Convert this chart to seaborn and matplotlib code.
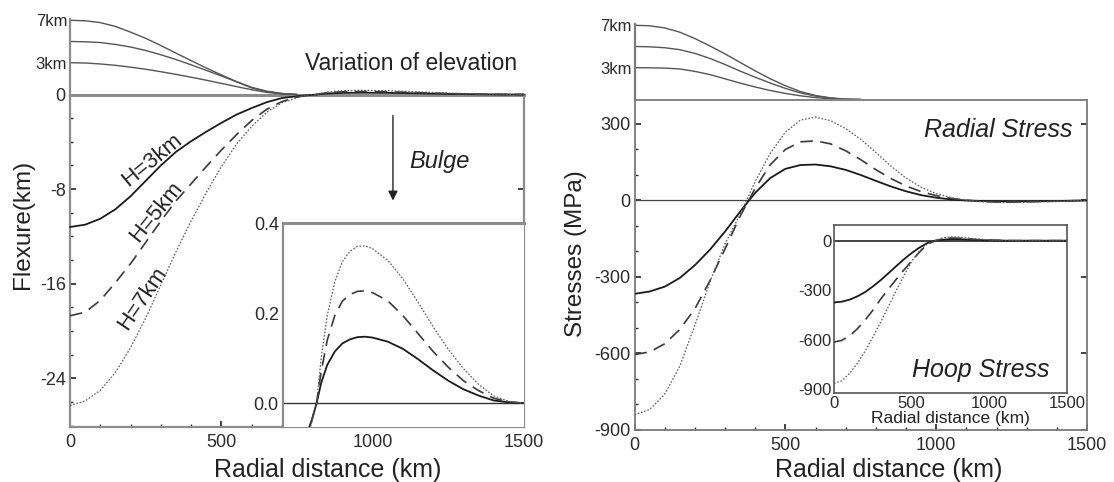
import matplotlib
matplotlib.use('Agg')
import matplotlib.pyplot as plt
import seaborn as sns
from matplotlib.ticker import MultipleLocator

sns.set_theme(style='ticks')
plt.rcParams['font.family'] = ['Liberation Sans', 'DejaVu Sans']
plt.rcParams['axes.unicode_minus'] = False

# %% data
loads = ['H=3km', 'H=5km', 'H=7km']

# surface load (elevation) profiles, km
r_elev = [0, 50, 100, 150, 200, 250, 300, 350, 400, 450, 500, 550, 600, 650, 700, 750]
elev_left_h3 = [3.0, 2.97, 2.88, 2.75, 2.58, 2.38, 2.15, 1.9, 1.63, 1.35, 1.05, 0.75, 0.45, 0.2, 0.05, 0.0]
elev_left_h5 = [5.0, 4.97, 4.9, 4.72, 4.48, 4.15, 3.75, 3.3, 2.8, 2.28, 1.75, 1.2, 0.62, 0.27, 0.08, 0.0]
elev_left_h7 = [7.0, 6.95, 6.78, 6.42, 5.88, 5.3, 4.62, 3.9, 3.2, 2.5, 1.85, 1.22, 0.68, 0.32, 0.1, 0.0]
elev_right_h3 = [3.0, 2.99, 2.96, 2.88, 2.65, 2.35, 1.95, 1.55, 1.18, 0.85, 0.57, 0.35, 0.18, 0.07, 0.01, 0.0]
elev_right_h5 = [5.0, 4.97, 4.88, 4.7, 4.35, 3.87, 3.3, 2.68, 2.1, 1.55, 1.05, 0.62, 0.32, 0.13, 0.03, 0.0]
elev_right_h7 = [7.0, 6.95, 6.75, 6.35, 5.75, 5.05, 4.3, 3.5, 2.7, 1.95, 1.3, 0.75, 0.38, 0.15, 0.03, 0.0]

# flexure, km
r_flex = [0, 50, 100, 150, 200, 250, 300, 350, 400, 450, 500, 550, 600, 650, 700,
          750, 775, 800, 815, 830, 850, 875, 900, 925, 950, 975,
          1000, 1050, 1100, 1150, 1200, 1250, 1300, 1350, 1400, 1450, 1500]
flex_h3 = [-11.2, -11.0, -10.5, -9.7, -8.6, -7.3, -6.0, -4.85, -3.95, -3.15, -2.4, -1.7, -1.15, -0.65, -0.3,
           -0.15, -0.085, -0.035, 0.0, 0.045, 0.085, 0.115, 0.133, 0.142, 0.147, 0.148,
           0.146, 0.137, 0.121, 0.098, 0.073, 0.05, 0.031, 0.017, 0.006, 0.002, 0.0]
flex_h5 = [-18.7, -18.4, -17.4, -15.9, -14.3, -12.5, -10.7, -9.0, -7.55, -6.1, -4.7, -3.4, -2.2, -1.25, -0.6,
           -0.22, -0.09, -0.037, 0.0, 0.07, 0.14, 0.195, 0.227, 0.242, 0.249, 0.25,
           0.246, 0.228, 0.195, 0.155, 0.115, 0.08, 0.05, 0.028, 0.011, 0.003, 0.0]
flex_h7 = [-26.3, -25.9, -25.0, -23.5, -21.4, -18.9, -16.1, -13.3, -10.7, -8.3, -6.1, -4.2, -2.7, -1.5, -0.7,
           -0.28, -0.1, -0.04, 0.0, 0.1, 0.195, 0.27, 0.315, 0.338, 0.349, 0.35,
           0.344, 0.318, 0.277, 0.225, 0.17, 0.12, 0.077, 0.042, 0.016, 0.004, 0.0]

# stresses, MPa
r_stress = [0, 50, 100, 150, 200, 250, 300, 350, 400, 450, 500, 550, 600, 650, 700, 750,
            800, 850, 900, 950, 1000, 1050, 1100, 1150, 1200, 1250, 1300, 1350, 1400, 1450, 1500]
radial_h3 = [-366, -357, -338, -304, -254, -193, -122, -44, 30, 88, 124, 139, 141, 134, 120, 100,
             77, 55, 36, 21, 11, 4, 0, -2, -3, -4, -3.5, -3, -2, -1, 0]
radial_h5 = [-604, -594, -562, -506, -425, -315, -190, -62, 48, 140, 200, 230, 234, 222, 195, 160,
             121, 86, 57, 35, 19, 8, 1, -4, -6, -6, -5, -4, -3, -1, 0]
radial_h7 = [-840, -820, -760, -650, -490, -320, -170, -55, 75, 185, 268, 315, 327, 313, 282, 240,
             188, 135, 88, 52, 27, 11, 1, -5, -8, -8, -7, -5, -3, -1, 0]
hoop_h3 = [-375, -370, -358, -338, -312, -278, -240, -198, -155, -113, -75, -42, -15, 0, 6, 9,
           9, 7, 5, 3, 2, 1, 0, 0, 0, 0, 0, 0, 0, 0, 0]
hoop_h5 = [-615, -605, -578, -535, -482, -422, -355, -294, -235, -178, -123, -70, -22, -1, 11, 16,
           15, 12, 8, 5, 3, 2, 1, 0, 0, 0, 0, 0, 0, 0, 0]
hoop_h7 = [-865, -850, -805, -745, -670, -585, -495, -400, -305, -212, -125, -62, -20, 0, 17, 23,
           22, 17, 12, 8, 5, 3, 1, 0, 0, 0, 0, 0, 0, 0, 0]

# %% styles
styles = {
    'H=3km': dict(color='#1a1a1a', linewidth=1.3, linestyle='-'),
    'H=5km': dict(color='#3a3a3a', linewidth=1.2, linestyle=(0, (7.5, 4.5))),
    'H=7km': dict(color='#5a5a5a', linewidth=0.9, linestyle=(0, (1.3, 1.4))),
}
elev_style = dict(color='#555555', linewidth=1.0)
grey_l = '#8c8c8c'
grey_r = '#7a7a7a'
tick_c = '#2b2b2b'

W, H = 1114, 482
fig = plt.figure(figsize=(W / 100, H / 100), dpi=100)


def box(x0, y0, x1, y1):
    return [x0 / W, 1 - y1 / H, (x1 - x0) / W, (y1 - y0) / H]


def style_ticks(ax, size):
    ax.tick_params(which='both', direction='in', colors=tick_c, labelsize=size, pad=3)
    ax.tick_params(which='major', length=4)
    ax.tick_params(which='minor', length=2.5)


def elevation_axes(rect, curves, color):
    ax = fig.add_axes(rect)
    ax.set_facecolor('none')
    for vals in curves:
        sns.lineplot(x=r_elev, y=vals, ax=ax, **elev_style)
    ax.set_xlim(0, 1500)
    ax.set_ylim(0, 7.1)
    for s in ['top', 'right', 'bottom']:
        ax.spines[s].set_visible(False)
    ax.spines['left'].set_color(color)
    ax.spines['left'].set_linewidth(1.6)
    ax.set_xticks([])
    ax.set_yticks([3, 7])
    ax.set_yticklabels(['3km', '7km'])
    style_ticks(ax, 12)
    ax.tick_params(axis='y', length=0, pad=2)
    ax.set_xlabel('')
    ax.set_ylabel('')
    return ax


# %% left panel: flexure
ax_l = fig.add_axes(box(70, 94.5, 524, 427))
for key, vals in zip(loads, [flex_h3, flex_h5, flex_h7]):
    sns.lineplot(x=r_flex, y=vals, ax=ax_l, clip_on=False, zorder=3, **styles[key])
ax_l.set_xlim(0, 1500)
ax_l.set_ylim(-28.1, 0)
ax_l.set_yticks([0, -8, -16, -24])
ax_l.set_xticks([0, 500, 1000, 1500])
ax_l.yaxis.set_minor_locator(MultipleLocator(2))
ax_l.xaxis.set_minor_locator(MultipleLocator(100))
for s in ax_l.spines.values():
    s.set_color(grey_l)
    s.set_linewidth(1.6)
ax_l.spines['top'].set_linewidth(2.2)
style_ticks(ax_l, 13)
ax_l.tick_params(axis='y', right=True)
ax_l.tick_params(axis='x', pad=5)
ax_l.set_xlabel('Radial distance (km)', fontsize=18, color='#222222')
ax_l.xaxis.set_label_coords(0.568, -0.093)
ax_l.set_ylabel('Flexure(km)', fontsize=17.5, color='#222222')
ax_l.yaxis.set_label_coords(-0.079, 0.61)

for key, xy, rot in [('H=3km', (271, -5.55), 39.5), ('H=5km', (285, -9.95), 51),
                     ('H=7km', (239, -17.25), 56)]:
    ax_l.text(*xy, key, rotation=rot, rotation_mode='anchor', ha='center', va='center',
              fontsize=16, color='#222222')

ax_l.annotate('', xy=(1067, -9.2), xytext=(1067, -1.55),
              arrowprops=dict(arrowstyle='-|>', color='#222222', lw=1.0, mutation_scale=14))
ax_l.text(1120, -5.7, 'Bulge', style='italic', fontsize=17, ha='left', va='center', color='#222222')

ax_le = elevation_axes(box(70, 19.2, 524, 94.5), [elev_left_h3, elev_left_h5, elev_left_h7], grey_l)
ax_le.text(1127, 2.95, 'Variation of elevation', fontsize=16.5, ha='center', va='center', color='#222222')

# inset: bulge
ax_li = fig.add_axes(box(283, 223.5, 524, 427))
for key, vals in zip(loads, [flex_h3, flex_h5, flex_h7]):
    sns.lineplot(x=r_flex, y=vals, ax=ax_li, **styles[key])
ax_li.axhline(0, color='#333333', lw=1.0, zorder=1)
ax_li.set_xlim(704, 1500)
ax_li.set_ylim(-0.053, 0.4)
ax_li.set_xticks([])
ax_li.set_yticks([0.0, 0.2, 0.4])
ax_li.set_yticklabels(['0.0', '0.2', '0.4'])
for s in ['right', 'bottom']:
    ax_li.spines[s].set_visible(False)
ax_li.spines['left'].set_color(grey_l)
ax_li.spines['left'].set_linewidth(1.6)
ax_li.spines['top'].set_color(grey_l)
ax_li.spines['top'].set_linewidth(2.2)
style_ticks(ax_li, 13)
ax_li.tick_params(axis='y', length=0, pad=3)
ax_li.set_xlabel('')
ax_li.set_ylabel('')

# %% right panel: radial stress
ax_r = fig.add_axes(box(634.5, 99.5, 1087, 430))
for key, vals in zip(loads, [radial_h3, radial_h5, radial_h7]):
    sns.lineplot(x=r_stress, y=vals, ax=ax_r, zorder=3, **styles[key])
ax_r.axhline(0, color='#444444', lw=0.9, zorder=1)
ax_r.set_xlim(0, 1500)
ax_r.set_ylim(-900, 396)
ax_r.set_yticks([300, 0, -300, -600, -900])
ax_r.set_xticks([0, 500, 1000, 1500])
ax_r.yaxis.set_minor_locator(MultipleLocator(100))
ax_r.xaxis.set_minor_locator(MultipleLocator(100))
for s in ax_r.spines.values():
    s.set_color(grey_r)
    s.set_linewidth(1.3)
style_ticks(ax_r, 13)
ax_r.tick_params(axis='y', right=True)
ax_r.tick_params(axis='x', pad=5)
ax_r.set_xlabel('Radial distance (km)', fontsize=18, color='#222222')
ax_r.xaxis.set_label_coords(0.562, -0.085)
ax_r.set_ylabel('Stresses (MPa)', fontsize=17.5, color='#222222')
ax_r.yaxis.set_label_coords(-0.105, 0.535)
ax_r.text(1205, 276, 'Radial Stress', style='italic', fontsize=18, ha='center', va='center',
          color='#222222')

ax_re = elevation_axes(box(634.5, 24.2, 1087, 99.5), [elev_right_h3, elev_right_h5, elev_right_h7], grey_r)

# inset: hoop stress
ax_ri = fig.add_axes(box(834, 224.5, 1067, 393))
for key, vals in zip(loads, [hoop_h3, hoop_h5, hoop_h7]):
    sns.lineplot(x=r_stress, y=vals, ax=ax_ri, zorder=3, **styles[key])
ax_ri.axhline(0, color='#222222', lw=1.2, zorder=2)
ax_ri.set_xlim(0, 1500)
ax_ri.set_ylim(-924, 98)
ax_ri.set_yticks([0, -300, -600, -900])
ax_ri.set_xticks([0, 500, 1000, 1500])
for s in ax_ri.spines.values():
    s.set_color('#555555')
    s.set_linewidth(1.2)
style_ticks(ax_ri, 12)
ax_ri.tick_params(length=0, pad=2)
ax_ri.set_xlabel('Radial distance (km)', fontsize=12.5, color='#222222', labelpad=0)
ax_ri.set_ylabel('')
ax_ri.text(947, -785, 'Hoop Stress', style='italic', fontsize=18, ha='center', va='center',
           color='#222222')

fig.savefig('out.png', dpi=100)
